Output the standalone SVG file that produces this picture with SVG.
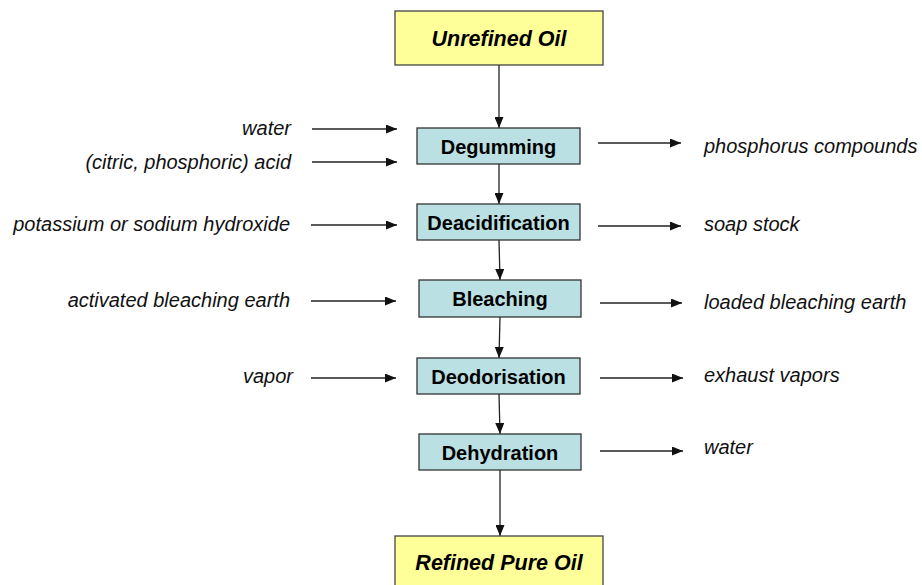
<svg xmlns="http://www.w3.org/2000/svg" width="922" height="585" viewBox="0 0 922 585">
<style>
.bg{fill:#ffffff}
.oil rect{fill:#FFFF99;stroke:#444;stroke-width:1.3}
.step rect{fill:#BBE0E4;stroke:#333;stroke-width:1.3}
.oil text{font-family:"Liberation Sans",Arial,sans-serif;font-size:21.5px;font-weight:bold;font-style:italic;fill:#000;text-anchor:middle}
.step text{font-family:"Liberation Sans",Arial,sans-serif;font-size:20px;font-weight:bold;fill:#000;text-anchor:middle}
.lbl{font-family:"Liberation Sans",Arial,sans-serif;font-size:20px;font-style:italic;fill:#111}
.lbl.l{text-anchor:end}
.lbl.r{text-anchor:start}
#connectors line{stroke:#222;stroke-width:1.3;fill:none;marker-end:url(#ah)}
</style>
<defs>
<marker id="ah" viewBox="0 0 11 9" refX="11" refY="4.5" markerWidth="11" markerHeight="9" markerUnits="userSpaceOnUse" orient="auto">
<path d="M0,0 L11,4.5 L0,9 Z" fill="#111"/>
</marker>
</defs>
<rect class="bg" x="0" y="0" width="922" height="585"/>

<g id="connectors">
<line x1="499" y1="65" x2="499" y2="128"/>
<line x1="499" y1="164" x2="499" y2="204"/>
<line x1="499" y1="240" x2="500" y2="280"/>
<line x1="500" y1="317" x2="499" y2="358"/>
<line x1="499" y1="394" x2="500" y2="434"/>
<line x1="500" y1="470" x2="500" y2="536"/>

<line x1="312" y1="129" x2="397" y2="129"/>
<line x1="312" y1="162" x2="397" y2="162"/>
<line x1="311" y1="225" x2="397" y2="225"/>
<line x1="311" y1="301" x2="396" y2="301"/>
<line x1="311" y1="378" x2="396" y2="378"/>

<line x1="598" y1="143" x2="681" y2="143"/>
<line x1="598" y1="226" x2="681" y2="226"/>
<line x1="600" y1="303" x2="682" y2="303"/>
<line x1="600" y1="378" x2="683" y2="378"/>
<line x1="600" y1="451" x2="683" y2="451"/>
</g>

<g id="unrefined" class="oil">
<rect x="395" y="11" width="208" height="54"/>
<text x="499" y="46">Unrefined Oil</text>
</g>
<g id="degumming" class="step">
<rect x="417" y="128" width="163" height="36"/>
<text x="498.5" y="154">Degumming</text>
</g>
<g id="deacidification" class="step">
<rect x="417" y="204" width="163" height="36"/>
<text x="498.5" y="230">Deacidification</text>
</g>
<g id="bleaching" class="step">
<rect x="419" y="280" width="162" height="37"/>
<text x="500" y="306">Bleaching</text>
</g>
<g id="deodorisation" class="step">
<rect x="417" y="358" width="163" height="36"/>
<text x="498.5" y="384">Deodorisation</text>
</g>
<g id="dehydration" class="step">
<rect x="419" y="434" width="162" height="36"/>
<text x="500" y="460">Dehydration</text>
</g>
<g id="refined" class="oil">
<rect x="395" y="536" width="208" height="60"/>
<text x="499" y="570">Refined Pure Oil</text>
</g>

<g id="inputs">
<text class="lbl l" x="291" y="135">water</text>
<text class="lbl l" x="291" y="169">(citric, phosphoric) acid</text>
<text class="lbl l" x="290" y="231">potassium or sodium hydroxide</text>
<text class="lbl l" x="290" y="307">activated bleaching earth</text>
<text class="lbl l" x="293" y="383">vapor</text>
</g>
<g id="outputs">
<text class="lbl r" x="704" y="153">phosphorus compounds</text>
<text class="lbl r" x="704" y="231">soap stock</text>
<text class="lbl r" x="704" y="309">loaded bleaching earth</text>
<text class="lbl r" x="704" y="382">exhaust vapors</text>
<text class="lbl r" x="704" y="454">water</text>
</g>
</svg>
